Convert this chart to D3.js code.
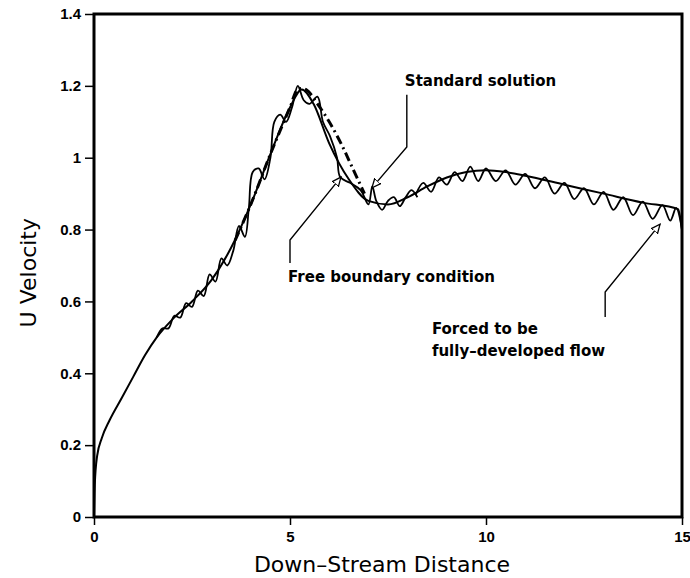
<!DOCTYPE html>
<html>
<head>
<meta charset="utf-8">
<script src="https://cdn.jsdelivr.net/npm/d3@7"></script>
<style>
  body { margin: 0; background: #fff; }
  svg { font-family: "DejaVu Sans", sans-serif; }
  .tick text { font-weight: bold; font-size: 15px; fill: #000; }
  .note { font-weight: bold; font-size: 15px; }
</style>
</head>
<body>
<div id="chart"></div>
<script>
// tick labels
const xTicks = [0, 5, 10, 15];
const yTicks = [0, 0.2, 0.4, 0.6, 0.8, 1, 1.2, 1.4];

// standard solution (smooth)
const stdX = [0, 0.02, 0.08, 0.2, 0.4, 0.7, 1.0, 1.3, 1.6, 2.0, 2.5, 3.0, 3.5, 4.0, 4.5, 5.0, 5.3, 5.6, 6.0, 6.5, 7.0, 7.5, 8.0, 8.5, 9.0, 9.5, 10.0, 10.5, 11, 12, 13, 14, 14.9, 15];
const stdY = [0, 0.09, 0.17, 0.22, 0.27, 0.33, 0.39, 0.45, 0.50, 0.55, 0.60, 0.66, 0.75, 0.87, 1.01, 1.14, 1.19, 1.15, 1.04, 0.94, 0.88, 0.87, 0.89, 0.92, 0.945, 0.96, 0.965, 0.96, 0.95, 0.925, 0.90, 0.875, 0.857, 0.80];

// dash-dot solution near the peak
const dashX = [3.6, 4.0, 4.5, 5.0, 5.2, 5.4, 5.7, 6.0, 6.3, 6.6, 6.9];
const dashY = [0.77, 0.87, 1.01, 1.14, 1.19, 1.19, 1.15, 1.10, 1.04, 0.97, 0.90];

// free boundary condition (wiggly)
const freeX = [1.6, 1.75, 1.9, 2.05, 2.2, 2.35, 2.5, 2.65, 2.8, 2.95, 3.1, 3.25, 3.4, 3.55, 3.7, 3.85, 3.95, 4.05, 4.2, 4.35, 4.5, 4.6, 4.75, 4.9, 5.05, 5.2, 5.35, 5.5, 5.7, 5.84, 6.02, 6.2, 6.28, 6.53, 6.8, 7.0, 7.1, 7.2, 7.35, 7.5, 7.65, 7.8, 7.95, 8.1, 8.25];
const freeY = [0.50, 0.525, 0.525, 0.56, 0.555, 0.595, 0.585, 0.63, 0.615, 0.675, 0.655, 0.72, 0.70, 0.74, 0.81, 0.78, 0.86, 0.96, 0.97, 0.94, 1.00, 1.10, 1.12, 1.10, 1.14, 1.20, 1.16, 1.15, 1.17, 1.10, 1.06, 1.00, 0.946, 0.93, 0.91, 0.87, 0.92, 0.88, 0.855, 0.88, 0.89, 0.865, 0.89, 0.91, 0.89];

// forced to be fully-developed flow (V wiggles)
const forcedX = [8.2, 8.4, 8.6, 8.8, 9.0, 9.2, 9.4, 9.6, 9.8, 10.0, 10.25, 10.5, 10.75, 11.0, 11.25, 11.5, 11.75, 12.0, 12.25, 12.5, 12.75, 13.0, 13.25, 13.5, 13.75, 14.0, 14.25, 14.5, 14.7, 14.85, 15.0];
const forcedY = [0.895, 0.93, 0.905, 0.945, 0.925, 0.96, 0.935, 0.975, 0.935, 0.97, 0.935, 0.965, 0.925, 0.955, 0.915, 0.945, 0.90, 0.93, 0.885, 0.915, 0.87, 0.905, 0.855, 0.89, 0.84, 0.878, 0.83, 0.868, 0.825, 0.86, 0.80];

// annotations: label lines (data units)
const notes = [
  { text: ["Standard solution"], tx: 7.93, ty: 1.2, line: [[7.98, 1.175], [7.98, 1.03], [7.09, 0.916]] },
  { text: ["Free boundary condition"], tx: 4.95, ty: 0.655, line: [[5.0, 0.707], [5.0, 0.771], [6.3, 0.946]] },
  { text: ["Forced to be", "fully\u2013developed flow"], tx: 8.62, ty: 0.51, line: [[13.04, 0.557], [13.04, 0.626], [14.44, 0.815]] }
];

const width = 690, height = 578;
const margin = { left: 94, right: 8, top: 14, bottom: 61 };

const svg = d3.select("#chart").append("svg")
    .attr("width", width)
    .attr("height", height);

const x = d3.scaleLinear().domain([0, 15]).range([margin.left, width - margin.right]);
const y = d3.scaleLinear().domain([0, 1.4]).range([height - margin.bottom, margin.top]);

// axes
svg.append("g")
    .attr("transform", `translate(${margin.left},0)`)
    .call(d3.axisLeft(y).tickValues(yTicks).tickFormat(d3.format("")).tickSize(9).tickPadding(4));
svg.append("g")
    .attr("transform", `translate(0,${height - margin.bottom})`)
    .call(d3.axisBottom(x).tickValues(xTicks).tickFormat(d3.format("")).tickSize(8).tickPadding(6));
svg.selectAll(".domain").remove();
svg.selectAll(".tick line").attr("stroke", "#000").attr("stroke-width", 1.5);

// frame
svg.append("rect")
    .attr("x", x(0)).attr("y", y(1.4))
    .attr("width", x(15) - x(0)).attr("height", y(0) - y(1.4))
    .attr("fill", "none").attr("stroke", "#000").attr("stroke-width", 3);

// axis titles
svg.append("text")
    .attr("x", (x(0) + x(15)) / 2 - 6).attr("y", 572)
    .attr("text-anchor", "middle")
    .attr("font-size", 22)
    .attr("font-weight", 500)
    .text("Down\u2013Stream Distance");
svg.append("text")
    .attr("transform", `translate(36,${y(0.68)}) rotate(-90)`)
    .attr("text-anchor", "middle")
    .attr("font-size", 22)
    .text("U Velocity");

const line = d3.line().x(d => x(d[0])).y(d => y(d[1]));
const zip = (a, b) => a.map((v, i) => [v, b[i]]);

const curves = svg.append("g").attr("fill", "none").attr("stroke", "#000");

curves.append("path")
    .attr("d", line.curve(d3.curveMonotoneX)(zip(stdX, stdY)))
    .attr("stroke-width", 2);

curves.append("path")
    .attr("d", line.curve(d3.curveCatmullRom)(zip(dashX, dashY)))
    .attr("stroke-width", 3)
    .attr("stroke-dasharray", "9,4,2,4");

curves.append("path")
    .attr("d", line.curve(d3.curveCatmullRom)(zip(freeX, freeY)))
    .attr("stroke-width", 1.8);

curves.append("path")
    .attr("d", line.curve(d3.curveCatmullRom)(zip(forcedX, forcedY)))
    .attr("stroke-width", 1.8);

// notes with arrows
svg.append("defs").append("marker")
    .attr("id", "arr")
    .attr("viewBox", "0 0 10 10")
    .attr("refX", 9).attr("refY", 5)
    .attr("markerWidth", 10).attr("markerHeight", 10)
    .attr("markerUnits", "userSpaceOnUse")
    .attr("orient", "auto")
    .append("path")
    .attr("d", "M0,1 L9,5 L0,9 Z")
    .attr("fill", "#fff").attr("stroke", "#000").attr("stroke-width", 1.3);

notes.forEach(n => {
    svg.append("path")
        .attr("d", d3.line().x(d => x(d[0])).y(d => y(d[1]))(n.line))
        .attr("fill", "none").attr("stroke", "#000").attr("stroke-width", 1.4)
        .attr("marker-end", "url(#arr)");
    const t = svg.append("text").attr("class", "note")
        .attr("x", x(n.tx)).attr("y", y(n.ty));
    n.text.forEach((s, i) => {
        t.append("tspan").attr("x", x(n.tx)).attr("dy", i === 0 ? 0 : 22).text(s);
    });
});
</script>
</body>
</html>
